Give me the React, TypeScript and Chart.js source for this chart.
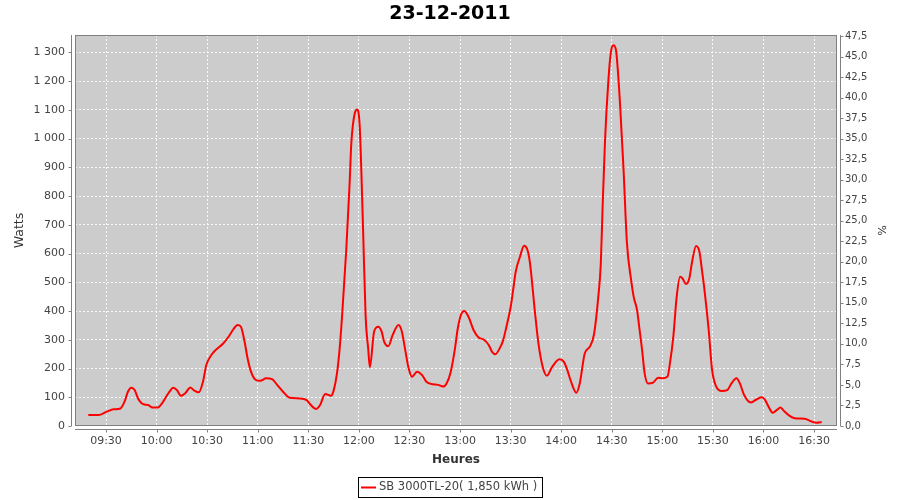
import React, { useEffect, useRef } from 'react';
import { Chart, registerables } from 'chart.js';

Chart.register(...registerables);

const TITLE = '23-12-2011';
const SERIES_LABEL = 'SB 3000TL-20( 1,850 kWh )';
const X_TITLE = 'Heures';
const Y_TITLE = 'Watts';
const Y2_TITLE = '%';

const X_TICK_LABELS = ['09:30', '10:00', '10:30', '11:00', '11:30', '12:00', '12:30', '13:00', '13:30', '14:00', '14:30', '15:00', '15:30', '16:00', '16:30'];
const X_MIN = '09:11:36';
const X_MAX = '16:43:36';
const Y_MAX = 1360;
const Y_STEP = 100;
const Y2_MAX = 47.62;
const Y2_STEP = 2.5;

const TIMES = [
  '09:19:30', '09:25:30', '09:30:30', '09:34:30', '09:38:30', '09:41:00', '09:43:00', '09:45:00', '09:47:00', '09:49:00',
  '09:52:00', '09:55:00', '09:57:30', '10:00:30', '10:03:30', '10:07:00', '10:10:00', '10:12:00', '10:14:30', '10:17:00',
  '10:20:00', '10:22:00', '10:25:00', '10:27:30', '10:29:30', '10:32:30', '10:35:00', '10:39:30', '10:43:00', '10:45:30',
  '10:48:00', '10:50:00', '10:52:00', '10:54:00', '10:56:00', '10:58:30', '11:01:30', '11:05:00', '11:08:30', '11:11:30',
  '11:15:00', '11:19:00', '11:25:00', '11:29:00', '11:31:30', '11:34:30', '11:37:00', '11:40:00', '11:43:30', '11:45:00',
  '11:47:00', '11:48:30', '11:50:00', '11:52:30', '11:54:30', '11:55:30', '11:57:30', '11:59:00', '12:00:30', '12:02:30',
  '12:04:00', '12:05:30', '12:06:30', '12:09:00', '12:11:30', '12:13:30', '12:15:00', '12:17:30', '12:20:00', '12:23:30',
  '12:25:30', '12:27:30', '12:29:30', '12:31:30', '12:34:30', '12:37:30', '12:40:00', '12:44:00', '12:47:00', '12:50:00',
  '12:52:00', '12:54:30', '12:57:00', '12:58:30', '13:00:30', '13:02:30', '13:05:00', '13:08:00', '13:11:00', '13:14:00',
  '13:17:00', '13:19:00', '13:21:00', '13:23:30', '13:25:30', '13:27:30', '13:30:00', '13:31:30', '13:33:00', '13:35:30',
  '13:38:00', '13:40:00', '13:41:30', '13:44:30', '13:46:30', '13:49:00', '13:51:30', '13:54:30', '13:59:00', '14:01:30',
  '14:03:30', '14:05:30', '14:09:00', '14:11:00', '14:14:00', '14:17:00', '14:19:30', '14:22:00', '14:23:30', '14:24:30',
  '14:26:00', '14:28:00', '14:29:30', '14:31:00', '14:32:30', '14:35:00', '14:37:00', '14:39:00', '14:41:30', '14:43:00',
  '14:45:00', '14:46:30', '14:48:00', '14:49:30', '14:51:30', '14:54:30', '14:57:30', '15:00:00', '15:03:00', '15:04:30',
  '15:06:30', '15:08:30', '15:10:30', '15:12:00', '15:14:00', '15:16:00', '15:17:30', '15:20:00', '15:22:00', '15:23:30',
  '15:25:00', '15:27:30', '15:29:30', '15:32:30', '15:35:00', '15:38:30', '15:41:00', '15:44:00', '15:46:00', '15:48:30',
  '15:52:30', '15:56:00', '15:59:00', '16:01:00', '16:03:00', '16:05:30', '16:08:00', '16:10:00', '16:12:00', '16:15:30',
  '16:18:30', '16:24:30', '16:27:30', '16:31:30', '16:34:30',
];

const WATTS = [
  38, 38, 50, 58, 61, 85, 119, 133, 125, 96,
  76, 73, 64, 64, 81, 114, 133, 125, 105, 114,
  134, 125, 117, 154, 212, 247, 264, 287, 313, 336,
  351, 345, 299, 235, 189, 162, 157, 166, 163, 143,
  119, 98, 96, 90, 73, 59, 73, 111, 105, 123,
  183, 264, 380, 612, 844, 983, 1087, 1101, 1040, 681,
  380, 270, 204, 328, 345, 328, 293, 278, 316, 351,
  328, 264, 201, 171, 189, 177, 154, 145, 143, 137,
  148, 189, 270, 334, 386, 400, 380, 334, 308, 301,
  282, 258, 250, 270, 297, 345, 413, 473, 536, 588,
  627, 612, 566, 392, 287, 206, 175, 204, 232, 224,
  197, 160, 116, 148, 253, 276, 320, 449, 566, 750,
  994, 1203, 1301, 1324, 1307, 1110, 890, 636, 507, 449,
  403, 334, 264, 183, 148, 151, 168, 166, 171, 218,
  310, 449, 519, 513, 494, 513, 566, 626, 606, 542,
  473, 334, 195, 131, 122, 125, 148, 166, 148, 108,
  82, 93, 100, 90, 67, 46, 56, 64, 53, 35,
  27, 25, 18, 11, 14,
];

const FONT = '"DejaVu Sans", sans-serif';
const TEXT_GRAY = '#444444';
const AXIS_GRAY = '#808080';

function toMinutes(t: string): number {
  const [h, m, s] = t.split(':').map(Number);
  return h * 60 + m + (s || 0) / 60;
}

function fmtTime(v: number): string {
  const h = Math.floor(v / 60);
  const m = Math.round(v - h * 60);
  return `${String(h).padStart(2, '0')}:${String(m).padStart(2, '0')}`;
}

function fmtWatts(v: number): string {
  if (v >= 1000) {
    const th = Math.floor(v / 1000);
    return `${th} ${String(Math.round(v - th * 1000)).padStart(3, '0')}`;
  }
  return String(Math.round(v));
}

const plotBackground = {
  id: 'plotBackground',
  beforeDraw(chart: any) {
    const { ctx, chartArea: a } = chart;
    ctx.save();
    ctx.fillStyle = '#cccccc';
    ctx.fillRect(a.left, a.top, a.right - a.left, a.bottom - a.top);
    ctx.restore();
  },
};

const offsetAxes = {
  id: 'offsetAxes',
  afterDraw(chart: any) {
    const { ctx, chartArea: a, scales } = chart;
    ctx.save();
    ctx.strokeStyle = AXIS_GRAY;
    ctx.lineWidth = 1;
    ctx.strokeRect(a.left + 0.5, a.top + 0.5, a.right - a.left - 1, a.bottom - a.top - 1);
    const lx = Math.round(a.left - 4) + 0.5;
    ctx.beginPath();
    ctx.moveTo(lx, a.top);
    ctx.lineTo(lx, a.bottom);
    scales.y.ticks.forEach((t: any) => {
      const py = Math.round(scales.y.getPixelForValue(t.value)) + 0.5;
      ctx.moveTo(lx - 3, py);
      ctx.lineTo(lx, py);
    });
    const rx = Math.round(a.right + 4) - 0.5;
    ctx.moveTo(rx, a.top);
    ctx.lineTo(rx, a.bottom);
    scales.y1.ticks.forEach((t: any) => {
      const py = Math.round(scales.y1.getPixelForValue(t.value)) + 0.5;
      ctx.moveTo(rx, py);
      ctx.lineTo(rx + 3, py);
    });
    const by = Math.round(a.bottom + 4) - 0.5;
    ctx.moveTo(a.left, by);
    ctx.lineTo(a.right, by);
    scales.x.ticks.forEach((t: any) => {
      const px = Math.round(scales.x.getPixelForValue(t.value)) + 0.5;
      ctx.moveTo(px, by);
      ctx.lineTo(px, by + 3);
    });
    ctx.stroke();
    ctx.restore();
  },
};

const boxedLegend = {
  id: 'boxedLegend',
  afterDraw(chart: any) {
    const { ctx } = chart;
    const ds = chart.data.datasets[0];
    const label: string = ds.label;
    ctx.save();
    ctx.font = `11.5px ${FONT}`;
    const tw = ctx.measureText(label).width;
    const lineW = 15;
    const gap = 3;
    const pad = 3;
    const boxW = Math.round(pad + lineW + gap + tw + pad + 2);
    const boxH = 20;
    const left = Math.round(450 - boxW / 2);
    const top = 477;
    ctx.strokeStyle = '#000000';
    ctx.lineWidth = 1;
    ctx.strokeRect(left + 0.5, top + 0.5, boxW, boxH);
    const cy = top + boxH / 2 + 0.5;
    ctx.strokeStyle = ds.borderColor;
    ctx.lineWidth = 2;
    ctx.beginPath();
    ctx.moveTo(left + pad, cy);
    ctx.lineTo(left + pad + lineW, cy);
    ctx.stroke();
    ctx.fillStyle = TEXT_GRAY;
    ctx.textBaseline = 'middle';
    ctx.textAlign = 'left';
    ctx.fillText(label, left + pad + lineW + gap, cy);
    ctx.restore();
  },
};

export default function App() {
  const canvasRef = useRef<HTMLCanvasElement | null>(null);

  useEffect(() => {
    const canvas = canvasRef.current;
    if (!canvas) return;
    const points = TIMES.map((t, i) => ({ x: toMinutes(t), y: WATTS[i] }));
    const chart = new Chart(canvas, {
      type: 'line',
      data: {
        datasets: [
          {
            label: SERIES_LABEL,
            data: points,
            borderColor: '#ff0000',
            backgroundColor: '#ff0000',
            borderWidth: 2,
            pointRadius: 0,
            tension: 0.4,
            cubicInterpolationMode: 'monotone',
            yAxisID: 'y',
          } as any,
        ],
      },
      options: {
        responsive: false,
        animation: false,
        events: [],
        layout: { padding: 0 },
        plugins: {
          legend: { display: false },
          tooltip: { enabled: false },
          title: {
            display: true,
            text: TITLE,
            color: '#000000',
            font: { family: FONT, size: 19, weight: 'bold' },
            padding: { top: 3, bottom: 9.2 },
          },
        },
        scales: {
          x: {
            type: 'linear',
            min: toMinutes(X_MIN),
            max: toMinutes(X_MAX),
            afterBuildTicks: (scale: any) => {
              scale.ticks = X_TICK_LABELS.map((t) => ({ value: toMinutes(t) }));
            },
            afterFit: (scale: any) => {
              scale.height = 74;
            },
            ticks: {
              callback: (v: any) => fmtTime(Number(v)),
              autoSkip: false,
              maxRotation: 0,
              minRotation: 0,
              padding: 9,
              color: TEXT_GRAY,
              font: { family: FONT, size: 11 },
            },
            grid: { color: 'rgba(255,255,255,0.85)', lineWidth: 1, drawTicks: false },
            border: { display: false, dash: [2, 2] },
            title: {
              display: true,
              text: X_TITLE,
              color: '#333333',
              font: { family: FONT, size: 12, weight: 'bold' },
              padding: { top: 0, bottom: 32.8 },
            },
          },
          y: {
            type: 'linear',
            position: 'left',
            min: 0,
            max: Y_MAX,
            afterFit: (scale: any) => {
              scale.width = 75;
            },
            ticks: {
              stepSize: Y_STEP,
              includeBounds: false,
              callback: (v: any) => fmtWatts(Number(v)),
              padding: 10,
              color: TEXT_GRAY,
              font: { family: FONT, size: 11 },
            },
            grid: { color: 'rgba(255,255,255,0.85)', lineWidth: 1, drawTicks: false },
            border: { display: false, dash: [2, 2] },
            title: {
              display: true,
              text: Y_TITLE,
              color: '#333333',
              font: { family: FONT, size: 12.5 },
              padding: { top: 12.5, bottom: 0 },
            },
          },
          y1: {
            type: 'linear',
            position: 'right',
            min: 0,
            max: Y2_MAX,
            afterFit: (scale: any) => {
              scale.width = 63;
            },
            ticks: {
              stepSize: Y2_STEP,
              includeBounds: false,
              callback: (v: any) => Number(v).toFixed(1).replace('.', ','),
              padding: 8,
              color: TEXT_GRAY,
              font: { family: FONT, size: 10 },
            },
            grid: { drawOnChartArea: false, drawTicks: false },
            border: { display: false },
            title: {
              display: true,
              text: Y2_TITLE,
              color: '#333333',
              font: { family: FONT, size: 11 },
              padding: { top: 12.4, bottom: 0 },
            },
          },
        },
      } as any,
      plugins: [plotBackground, offsetAxes, boxedLegend],
    });
    return () => chart.destroy();
  }, []);

  return (
    <div style={{ position: 'absolute', left: 0, top: 0, width: 900, height: 500, background: '#ffffff' }}>
      <canvas ref={canvasRef} width={900} height={500} style={{ display: 'block', width: 900, height: 500 }} />
    </div>
  );
}
